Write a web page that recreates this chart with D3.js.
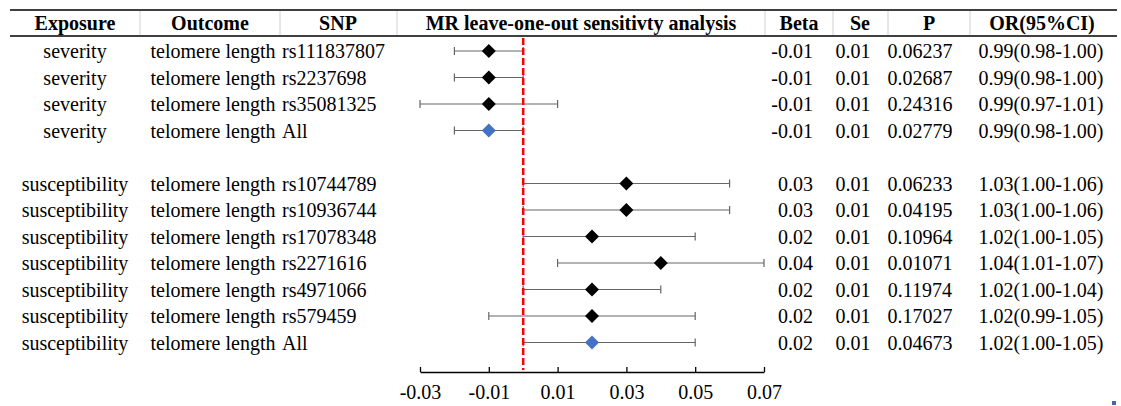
<!DOCTYPE html>
<html>
<head>
<meta charset="utf-8">
<script src="https://cdn.jsdelivr.net/npm/d3@7"></script>
<style>
  body { margin: 0; background: #fff; }
</style>
</head>
<body>
<svg id="chart" width="1121" height="406"></svg>
<script>
// table data, one entry per row (null = blank spacer row)
var exposure = ["severity", "severity", "severity", "severity", null,
  "susceptibility", "susceptibility", "susceptibility", "susceptibility", "susceptibility", "susceptibility", "susceptibility"];
var snps = ["rs111837807", "rs2237698", "rs35081325", "All", null,
  "rs10744789", "rs10936744", "rs17078348", "rs2271616", "rs4971066", "rs579459", "All"];
var beta = [-0.01, -0.01, -0.01, -0.01, null, 0.03, 0.03, 0.02, 0.04, 0.02, 0.02, 0.02];
var lower = [-0.02, -0.02, -0.03, -0.02, null, 0.00, 0.00, 0.00, 0.01, 0.00, -0.01, 0.00];
var upper = [0.00, 0.00, 0.01, 0.00, null, 0.06, 0.06, 0.05, 0.07, 0.04, 0.05, 0.05];
var se = ["0.01", "0.01", "0.01", "0.01", null, "0.01", "0.01", "0.01", "0.01", "0.01", "0.01", "0.01"];
var pvals = ["0.06237", "0.02687", "0.24316", "0.02779", null,
  "0.06233", "0.04195", "0.10964", "0.01071", "0.11974", "0.17027", "0.04673"];
var orci = ["0.99(0.98-1.00)", "0.99(0.98-1.00)", "0.99(0.97-1.01)", "0.99(0.98-1.00)", null,
  "1.03(1.00-1.06)", "1.03(1.00-1.06)", "1.02(1.00-1.05)", "1.04(1.01-1.07)", "1.02(1.00-1.04)", "1.02(0.99-1.05)", "1.02(1.00-1.05)"];
var headers = ["Exposure", "Outcome", "SNP", "MR leave-one-out sensitivty analysis", "Beta", "Se", "P", "OR(95%CI)"];
var tickVals = [-0.03, -0.01, 0.01, 0.03, 0.05, 0.07];

var FONT = "'Liberation Serif', 'Times New Roman', 'DejaVu Serif', serif";
var FS = "20px";
var fmt = function (d) { return d3.format(".2f")(d).replace("\u2212", "-"); };

var svg = d3.select("#chart").attr("font-family", FONT);

// column edges of header
var colEdges = [10, 140, 280, 397, 765, 833, 888, 970, 1117];
var headCenters = [75, 210, 338, 581, 799, 860, 929, 1042];

var x = d3.scaleLinear().domain([-0.03, 0.07]).range([420, 764]);
var y = d3.scaleLinear().domain([0, 11]).range([51, 342.5]);

// header lines
svg.append("line").attr("x1", colEdges[0]).attr("x2", colEdges[8]).attr("y1", 10).attr("y2", 10)
  .attr("stroke", "#000").attr("stroke-width", 1.5);
svg.append("line").attr("x1", colEdges[0]).attr("x2", colEdges[8]).attr("y1", 36).attr("y2", 36)
  .attr("stroke", "#000").attr("stroke-width", 1.5);
svg.selectAll(".sep").data(colEdges.slice(1, 8)).enter().append("line")
  .attr("x1", function (d) { return d; }).attr("x2", function (d) { return d; })
  .attr("y1", 11).attr("y2", 35).attr("stroke", "#d0d0d0").attr("stroke-width", 1);

svg.selectAll(".head").data(headers).enter().append("text")
  .attr("x", function (d, i) { return headCenters[i]; })
  .attr("y", 30)
  .attr("text-anchor", "middle")
  .attr("font-family", FONT)
  .attr("font-weight", "bold")
  .attr("font-size", FS)
  .text(function (d) { return d; });

var idx = d3.range(exposure.length).filter(function (i) { return exposure[i] !== null; });

function addCol(arr, xpos, anchor) {
  svg.append("g").selectAll("text").data(idx).enter().append("text")
    .attr("x", xpos).attr("y", function (i) { return y(i) + 7; })
    .attr("text-anchor", anchor).attr("font-size", FS).attr("font-family", FONT)
    .text(function (i) { return arr[i]; });
}
addCol(exposure, 75, "middle");
addCol(exposure.map(function (d) { return d ? "telomere length" : null; }), 213, "middle");
addCol(snps, 282, "start");
addCol(beta.map(function (d) { return d === null ? null : fmt(d); }), 813, "end");
addCol(se, 853, "middle");
addCol(pvals, 920, "middle");
addCol(orci, 1041, "middle");

// axis
var axis = svg.append("g").attr("transform", "translate(0,372)")
  .call(d3.axisBottom(x).tickValues(tickVals).tickSizeInner(-5).tickSizeOuter(0)
    .tickPadding(13).tickFormat(fmt));
axis.attr("font-family", FONT);
axis.select(".domain").attr("stroke", "#000").attr("stroke-width", 1.3);
axis.selectAll(".tick line").attr("stroke", "#000").attr("stroke-width", 1.3);
axis.selectAll(".tick text").attr("font-size", FS).attr("font-family", FONT).attr("fill", "#000");

// whiskers
var ci = svg.append("g").selectAll("g").data(idx).enter().append("g");
ci.append("line")
  .attr("x1", function (i) { return x(lower[i]); }).attr("x2", function (i) { return x(upper[i]); })
  .attr("y1", function (i) { return y(i); }).attr("y2", function (i) { return y(i); })
  .attr("stroke", "#666").attr("stroke-width", 1.2);
ci.append("line")
  .attr("x1", function (i) { return x(lower[i]); }).attr("x2", function (i) { return x(lower[i]); })
  .attr("y1", function (i) { return y(i) - 4; }).attr("y2", function (i) { return y(i) + 4; })
  .attr("stroke", "#666").attr("stroke-width", 1.2);
ci.append("line")
  .attr("x1", function (i) { return x(upper[i]); }).attr("x2", function (i) { return x(upper[i]); })
  .attr("y1", function (i) { return y(i) - 4; }).attr("y2", function (i) { return y(i) + 4; })
  .attr("stroke", "#666").attr("stroke-width", 1.2);

// red null line
svg.append("line").attr("x1", x(0)).attr("x2", x(0)).attr("y1", 38).attr("y2", 370)
  .attr("stroke", "#ff0000").attr("stroke-width", 2.5).attr("stroke-dasharray", "7,3");

// diamonds
svg.append("g").selectAll("path").data(idx).enter().append("path")
  .attr("d", function (i) {
    var cx = x(beta[i]), cy = y(i), r = 7;
    return "M" + cx + "," + (cy - r) + "L" + (cx + r) + "," + cy + "L" + cx + "," + (cy + r) + "L" + (cx - r) + "," + cy + "Z";
  })
  .attr("fill", function (i) { return snps[i] === "All" ? "#4472c4" : "#000"; });

// small corner mark
svg.append("rect").attr("x", 1112).attr("y", 401).attr("width", 4).attr("height", 4).attr("fill", "#4466aa");
</script>
</body>
</html>
